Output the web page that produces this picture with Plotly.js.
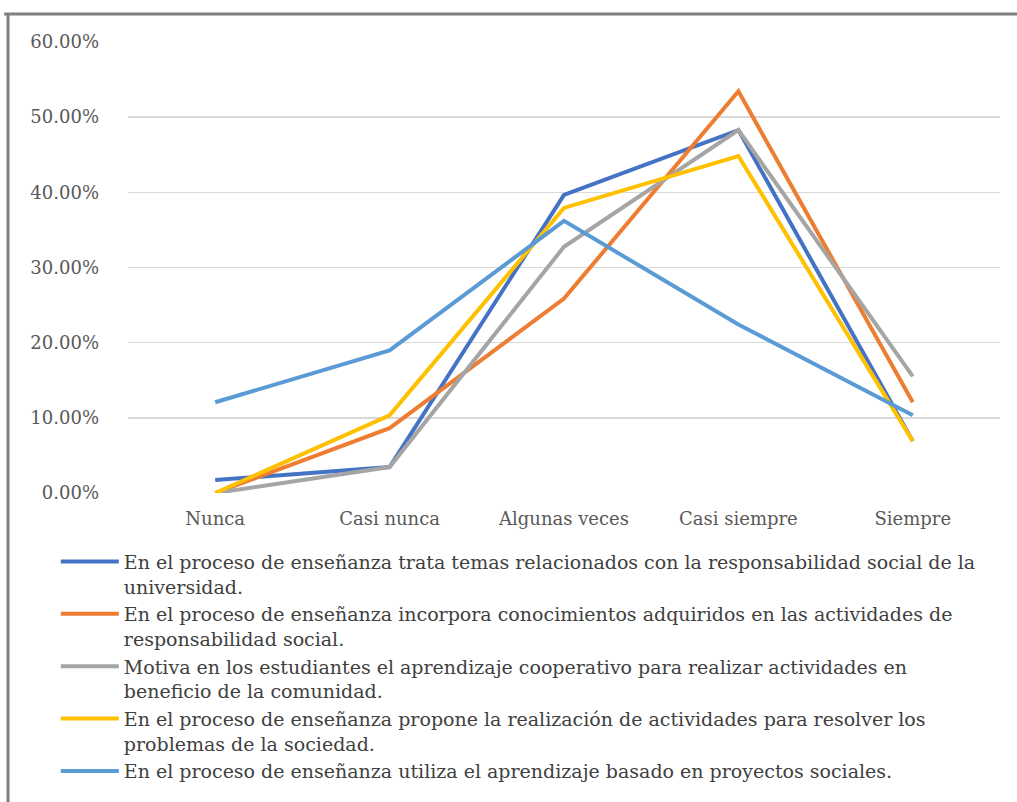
<!DOCTYPE html>
<html>
<head>
<meta charset="utf-8">
<script src="https://cdn.plot.ly/plotly-3.0.1.min.js"></script>
<style>html,body{margin:0;padding:0;background:#fff;}#chart{width:1017px;height:802px;}</style>
</head>
<body>
<div id="chart"></div>
<script>
var categories = ["Nunca", "Casi nunca", "Algunas veces", "Casi siempre", "Siempre"];

var seriesNames = [
  "En el proceso de enseñanza trata temas relacionados con la responsabilidad social de la<br>universidad.",
  "En el proceso de enseñanza incorpora conocimientos adquiridos en las actividades de<br>responsabilidad social.",
  "Motiva en los estudiantes el aprendizaje cooperativo para realizar actividades en<br>beneficio de la comunidad.",
  "En el proceso de enseñanza propone la realización de actividades para resolver los<br>problemas de la sociedad.",
  "En el proceso de enseñanza utiliza el aprendizaje basado en proyectos sociales."
];

var trataTemas     = [0.0172, 0.0345, 0.3966, 0.4828, 0.0690];
var incorpora      = [0.0000, 0.0862, 0.2586, 0.5345, 0.1207];
var motiva         = [0.0000, 0.0345, 0.3276, 0.4828, 0.1552];
var propone        = [0.0000, 0.1034, 0.3793, 0.4483, 0.0690];
var utilizaProy    = [0.1207, 0.1897, 0.3621, 0.2241, 0.1034];

var seriesValues = [trataTemas, incorpora, motiva, propone, utilizaProy];
var seriesColors = ["#4472C4", "#ED7D31", "#A5A5A5", "#FFC000", "#5B9BD5"];

var yTickVals = [0, 0.1, 0.2, 0.3, 0.4, 0.5, 0.6];

var traces = seriesValues.map(function (vals, i) {
  return {
    type: "scatter",
    mode: "lines",
    x: categories,
    y: vals,
    name: seriesNames[i],
    line: {color: seriesColors[i], width: 4},
    hoverinfo: "x+y"
  };
});

var layout = {
  width: 1017,
  height: 802,
  margin: {l: 128, r: 17, t: 42, b: 309},
  paper_bgcolor: "#ffffff",
  plot_bgcolor: "#ffffff",
  font: {family: "DejaVu Serif", size: 18, color: "#595959"},
  showlegend: true,
  xaxis: {
    type: "category",
    range: [-0.5, 4.5],
    showgrid: false,
    showline: false,
    zeroline: false,
    ticks: "",
    tickfont: {family: "DejaVu Serif", size: 18, color: "#595959"},
    ticklabelstandoff: 13
  },
  yaxis: {
    range: [0, 0.6],
    tickvals: yTickVals,
    tickformat: ".2%",
    showgrid: true,
    gridcolor: "#d9d9d9",
    gridwidth: 1.5,
    zeroline: false,
    showline: false,
    ticks: "",
    tickfont: {family: "DejaVu Serif", size: 18, color: "#595959"},
    ticklabelstandoff: 28
  },
  legend: {
    x: -0.0828,
    xanchor: "left",
    yref: "container",
    y: 0.3235,
    yanchor: "top",
    orientation: "v",
    valign: "top",
    itemwidth: 58,
    tracegroupgap: 0,
    bgcolor: "rgba(0,0,0,0)",
    font: {family: "DejaVu Serif", size: 19, color: "#404040"}
  },
  shapes: [
    {type: "line", xref: "paper", yref: "paper", x0: -0.142, x1: 1.05, y0: 1.062, y1: 1.062,
     line: {color: "#7f7f7f", width: 3}},
    {type: "line", xref: "paper", yref: "paper", x0: -0.1376, x1: -0.1376, y0: 1.062, y1: -0.7,
     line: {color: "#7f7f7f", width: 3}}
  ]
};

Plotly.newPlot("chart", traces, layout, {displayModeBar: false, staticPlot: true});
</script>
</body>
</html>
